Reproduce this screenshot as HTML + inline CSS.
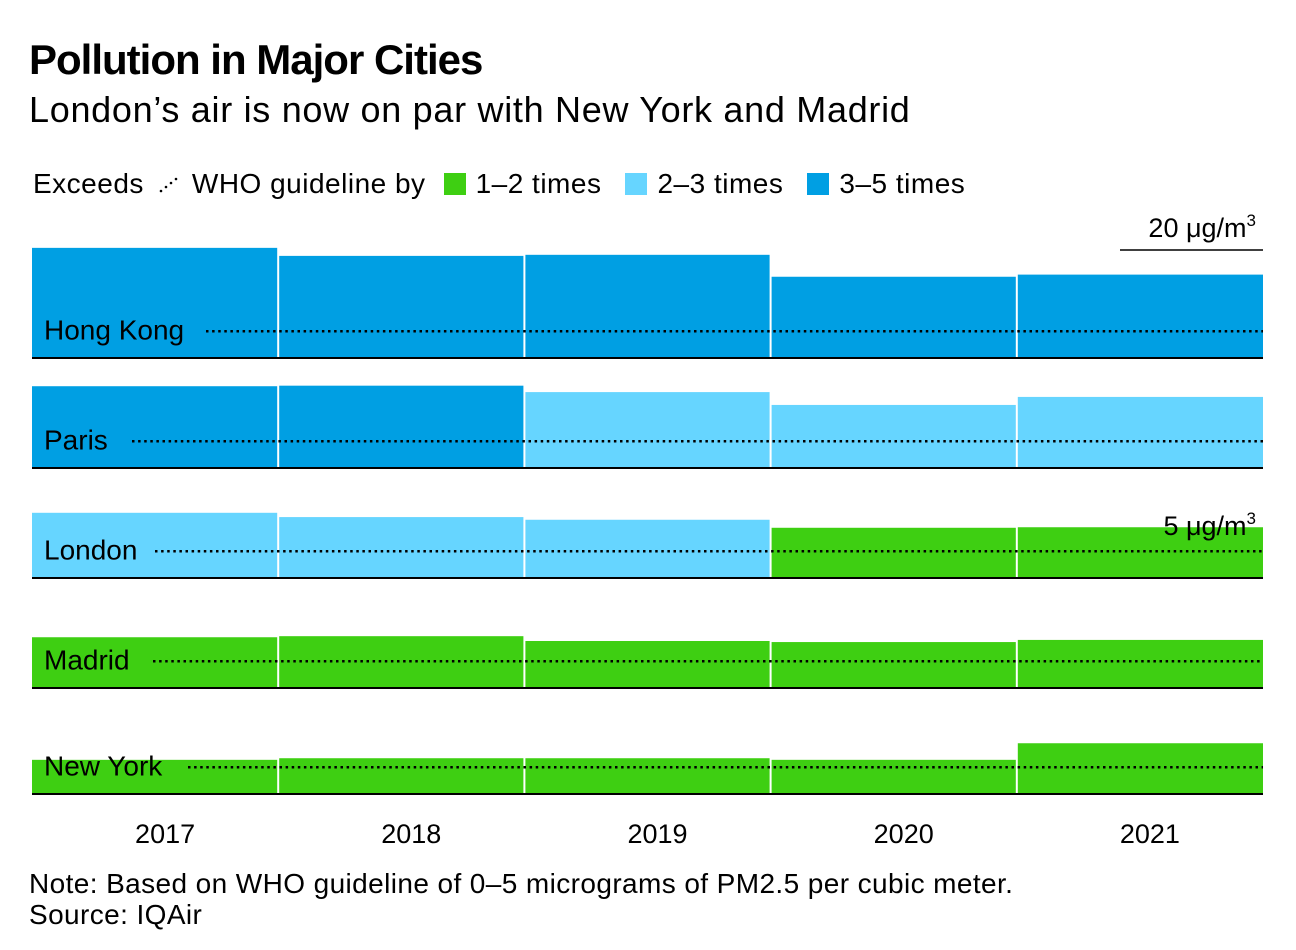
<!DOCTYPE html>
<html><head><meta charset="utf-8"><style>
body{margin:0;background:#fff;font-family:"Liberation Sans",sans-serif;}
#wrap{position:relative;width:1296px;height:950px;overflow:hidden;}
.t{position:absolute;white-space:nowrap;color:#000;}
</style></head><body>
<div id="wrap">
<div class="t" style="left:29px;top:36px;font-size:42px;font-weight:bold;letter-spacing:-1px">Pollution in Major Cities</div>
<div class="t" style="left:29px;top:89px;font-size:36px;letter-spacing:0.7px">London’s air is now on par with New York and Madrid</div>
<div class="t" style="left:33px;top:168px;font-size:28px;letter-spacing:0.5px;display:flex;align-items:center">
 <span>Exceeds</span>
 <svg width="30" height="24" style="margin:0 8px 0 10px"><circle cx="7" cy="19" r="1.3"/><circle cx="12" cy="15" r="1.3"/><circle cx="17" cy="11" r="1.3"/><circle cx="22" cy="7" r="1.3"/></svg>
 <span>WHO guideline by</span>
 <span style="display:inline-block;width:22px;height:22px;background:#3ecf12;margin:0 10px 0 18px"></span><span>1–2 times</span>
 <span style="display:inline-block;width:22px;height:22px;background:#66d5ff;margin:0 10px 0 24px"></span><span>2–3 times</span>
 <span style="display:inline-block;width:22px;height:22px;background:#009fe3;margin:0 10px 0 24px"></span><span>3–5 times</span>
</div>
<svg id="plot" width="1296" height="950" style="position:absolute;left:0;top:0"></svg>
<div class="t" style="left:29px;top:868px;font-size:28px;letter-spacing:0.4px">Note: Based on WHO guideline of 0–5 micrograms of PM2.5 per cubic meter.</div>
<div class="t" style="left:29px;top:899px;font-size:28px;letter-spacing:0.4px">Source: IQAir</div>
</div>
<script>
const years = ["2017","2018","2019","2020","2021"];
const cities = ["Hong Kong","Paris","London","Madrid","New York"];
const hongKong = [20.4,18.9,19.1,15.0,15.4];
const paris = [15.1,15.2,14.0,11.6,13.1];
const london = [12.0,11.2,10.7,9.2,9.3];
const madrid = [9.3,9.5,8.6,8.4,8.8];
const newYork = [6.2,6.5,6.5,6.2,9.3];
const guideline = 5;
const series = [hongKong,paris,london,madrid,newYork];

const NS="http://www.w3.org/2000/svg";
const svg=document.getElementById('plot');
const x0=32,x1=1263,colW=(x1-x0)/years.length;
const baselines=[357,467,577,687,793];
const pxPerUnit=107/20;
const y=(v,r)=>baselines[r]-v*pxPerUnit;
const col=v=>{const k=v/guideline;return k<2?"#3ecf12":k<3?"#66d5ff":"#009fe3";};
function mk(tag,attrs){const e=document.createElementNS(NS,tag);for(const k in attrs)e.setAttribute(k,attrs[k]);svg.appendChild(e);return e;}
const dotStart=[206,132,155,153,188];
series.forEach((vals,r)=>{
  vals.forEach((v,i)=>{
    const b=mk('rect',{x:x0+i*colW+(i?1:0),y:y(v,r),width:colW-(i?1:0)-(i<4?1:0),height:v*pxPerUnit,fill:col(v)});
    
    
  });
  const gy=y(guideline,r)+1;
  const l=mk('line',{x1:dotStart[r],x2:x1,y1:gy,y2:gy,stroke:'#000','stroke-width':2.5,'stroke-dasharray':'2.5 3.6'});
  
  
  const t=mk('text',{x:x0+12,y:gy+8,'font-size':28,'font-family':'Liberation Sans'});
  t.textContent=cities[r];
  
  
  const a=mk('line',{x1:x0,x2:x1,y1:baselines[r]+1,y2:baselines[r]+1,stroke:'#000','stroke-width':2});
  
  
});
years.forEach((yr,i)=>{
  const t=mk('text',{x:x0+(i+0.5)*colW+10,y:843,'font-size':27,'text-anchor':'middle','font-family':'Liberation Sans'});
  t.textContent=yr;
  
  
});
const s=mk('line',{x1:1120,x2:1263,y1:250,y2:250,stroke:'#000','stroke-width':1.5});


const st=mk('text',{x:1256,y:237,'font-size':27,'text-anchor':'end','font-family':'Liberation Sans'});
st.innerHTML='20 μg/m<tspan dy="-11" font-size="17">3</tspan>';


const st2=mk('text',{x:1256,y:535,'font-size':27,'text-anchor':'end','font-family':'Liberation Sans'});
st2.innerHTML='5 μg/m<tspan dy="-11" font-size="17">3</tspan>';


</script>
</body></html>
